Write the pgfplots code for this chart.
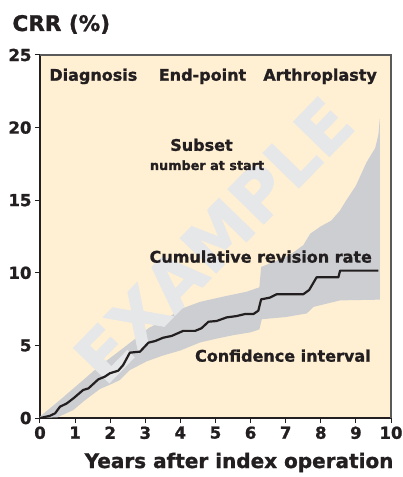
\documentclass[border=0pt]{standalone}
\usepackage{pgfplots}
\pgfplotsset{compat=1.18}
\usepackage{fontspec}
\setmainfont{DejaVu Sans}[BoldFeatures={FakeBold=1.2}]

\definecolor{bgcream}{RGB}{255,240,212}
\definecolor{bandgray}{RGB}{205,206,209}
\definecolor{wmgray}{RGB}{230,231,233}
\definecolor{framegray}{RGB}{90,90,90}
\definecolor{ink}{RGB}{35,31,32}

\tikzset{lbl/.style={text=ink, inner sep=0pt, anchor=base,
    font=\fontsize{16}{19}\selectfont\bfseries}}

\begin{document}
\begin{tikzpicture}
\path[use as bounding box] (-40pt,-59pt) rectangle (362pt,418pt);
\begin{axis}[
    scale only axis, width=351pt, height=363pt,
    xmin=0, xmax=10, ymin=0, ymax=25,
    xtick={0,...,10}, ytick={0,5,...,25},
    axis x line*=bottom, axis y line*=left,
    axis line style={ink, line width=1.3pt, -},
    tick style={ink, line width=1pt},
    tick align=outside, major tick length=5pt,
    axis background/.style={fill=bgcream},
    ticklabel style={font=\fontsize{16.5}{18}\selectfont\bfseries, text=ink},
    /pgf/number format/assume math mode=true,
    xlabel={Years after index operation},
    ylabel={CRR (\%)},
    every axis x label/.style={at={(rel axis cs:1,0)}, anchor=base east,
        xshift=6pt, yshift=-50pt, text=ink, font=\fontsize{20}{24}\selectfont\bfseries},
    every axis y label/.style={at={(rel axis cs:0,1)}, anchor=base west,
        xshift=-31pt, yshift=24pt, text=ink, font=\fontsize{21.5}{26}\selectfont\bfseries},
    clip=false,
  ]
  % confidence interval: upper bound left to right, then lower bound back
  \addplot[fill=bandgray, draw=none] coordinates {
    (0,0.1) (0.5,1.1) (1.08,2.3) (1.65,3.5) (2.2,4.5) (2.79,5.6) (3.1,6.2)
    (3.65,6.9) (4.0,7.5) (4.56,8.0) (5.22,8.36) (5.89,8.7) (6.25,9.0)
    (6.3,10.4) (6.8,10.9) (7.1,11.2) (7.5,11.9) (7.7,12.7) (8.0,13.2)
    (8.3,13.6) (8.55,14.3) (8.7,14.9) (9.0,16.0) (9.3,17.6) (9.55,18.6)
    (9.64,19.5) (9.68,20.6)
    (9.68,8.15) (8.55,8.1) (7.79,7.65) (7.6,7.2) (7.0,6.95) (6.32,6.8)
    (6.25,6.1) (6.0,5.9) (5.5,5.7) (5.0,5.45) (4.56,5.2) (4.0,4.65)
    (3.5,4.3) (3.04,3.9) (2.56,3.3) (2.28,2.62) (2.0,2.3) (1.71,2.0)
    (1.27,1.2) (0.95,0.55) (0.5,0.05) (0,0)
  } -- cycle;

  \node[rotate=45.8, text=wmgray, inner sep=0pt,
        font=\fontsize{68.7}{80}\selectfont\bfseries] at (axis cs:4.94,12.26) {EXAMPLE};

  % cumulative revision rate
  \addplot[ink, line width=2.2pt, line join=round] coordinates {
    (0,0) (0.1,0.05) (0.28,0.15) (0.43,0.32) (0.57,0.78) (0.76,1.0)
    (0.95,1.35) (1.23,1.93) (1.38,2.04) (1.66,2.66) (1.85,2.85) (1.99,3.08)
    (2.23,3.26) (2.37,3.65) (2.56,4.5) (2.85,4.57) (3.09,5.19) (3.28,5.3)
    (3.51,5.53) (3.75,5.65) (4.08,6.0) (4.42,6.0) (4.6,6.18) (4.8,6.63)
    (5.03,6.68) (5.32,6.93) (5.6,7.02) (5.84,7.16) (6.08,7.16) (6.22,7.39)
    (6.3,8.17) (6.55,8.29) (6.74,8.52) (7.5,8.52) (7.67,8.82) (7.88,9.69)
    (8.5,9.69) (8.55,10.15) (9.64,10.15)
  };

  \draw[framegray, line width=1.3pt] (rel axis cs:0,1) -- (rel axis cs:1,1) -- (rel axis cs:1,0);

  \node[lbl] at (axis cs:1.52,23.23) {Diagnosis};
  \node[lbl] at (axis cs:4.63,23.23) {End-point};
  \node[lbl] at (axis cs:7.98,23.23) {Arthroplasty};
  \node[lbl] at (axis cs:4.6,18.4) {Subset};
  \node[lbl, font=\fontsize{12.8}{15}\selectfont\bfseries] at (axis cs:4.76,17.08) {number at start};
  \node[lbl] at (axis cs:6.29,10.7) {Cumulative revision rate};
  \node[lbl] at (axis cs:6.92,3.88) {Confidence interval};
\end{axis}
\end{tikzpicture}
\end{document}
